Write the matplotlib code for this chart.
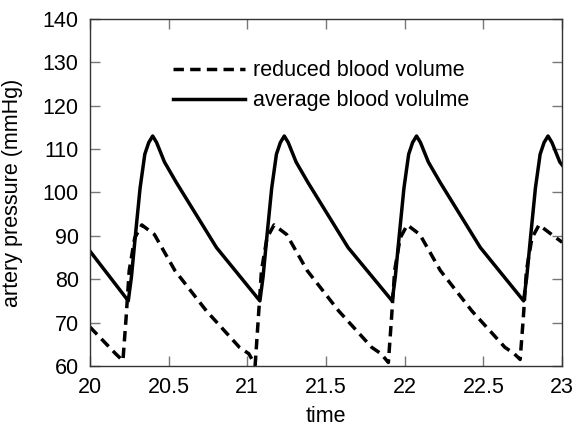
import matplotlib
matplotlib.use("Agg")
import matplotlib.pyplot as plt

plt.rcParams['font.family'] = ['Liberation Sans', 'DejaVu Sans']

# average blood volume: pressure trace (time, mmHg)
avg_time = [20.0, 20.244, 20.264, 20.289, 20.319, 20.349, 20.374, 20.399, 20.424, 20.474, 20.549, 20.804,
            21.080, 21.100, 21.125, 21.155, 21.185, 21.210, 21.235, 21.260, 21.310, 21.385, 21.640,
            21.920, 21.940, 21.965, 21.995, 22.025, 22.050, 22.075, 22.100, 22.150, 22.225, 22.480,
            22.755, 22.775, 22.800, 22.830, 22.860, 22.885, 22.910, 22.935, 22.985, 23.0]
avg_pressure = [86.5, 75.0, 80.5, 90.0, 101.0, 108.8, 111.5, 113.0, 111.5, 107.0, 102.3, 87.3,
                75.0, 80.5, 90.0, 101.0, 108.8, 111.5, 113.0, 111.5, 107.0, 102.3, 87.3,
                75.0, 80.5, 90.0, 101.0, 108.8, 111.5, 113.0, 111.5, 107.0, 102.3, 87.3,
                75.0, 80.5, 90.0, 101.0, 108.8, 111.5, 113.0, 111.5, 107.0, 106.3]

# reduced blood volume: pressure trace (time, mmHg)
red_time = [20.0, 20.164, 20.21, 20.23, 20.25, 20.285, 20.33, 20.41, 20.54, 20.74, 20.95, 21.01,
            21.05, 21.07, 21.09, 21.125, 21.17, 21.25, 21.38, 21.58, 21.79, 21.85,
            21.896, 21.916, 21.936, 21.971, 22.016, 22.096, 22.226, 22.426, 22.636, 22.696,
            22.733, 22.753, 22.773, 22.808, 22.853, 22.933, 23.0]
red_pressure = [69.0, 62.8, 61.2, 71.0, 82.0, 89.5, 92.5, 90.3, 82.0, 72.7, 64.3, 62.8,
                60.2, 71.0, 82.0, 89.5, 92.5, 90.3, 82.0, 72.7, 64.3, 62.8,
                60.8, 71.0, 82.0, 89.5, 92.5, 90.3, 82.0, 72.7, 64.3, 62.8,
                61.5, 71.0, 82.0, 89.5, 92.5, 90.3, 88.5]

x_ticks = [20, 20.5, 21, 21.5, 22, 22.5, 23]
x_tick_labels = ['20', '20.5', '21', '21.5', '22', '22.5', '23']
y_ticks = [60, 70, 80, 90, 100, 110, 120, 130, 140]

FS = 15.5

fig = plt.figure(figsize=(5.76, 4.29), dpi=100)
ax = fig.add_axes([0.156, 0.147, 0.82, 0.809])

ax.plot(red_time, red_pressure, color='black', lw=2.5, linestyle=(0, (3.0, 1.8)),
        label='reduced blood volume')
ax.plot(avg_time, avg_pressure, color='black', lw=2.5, solid_joinstyle='round',
        label='average blood volulme')

ax.set_xlim(20, 23)
ax.set_ylim(60, 140)
ax.set_xticks(x_ticks)
ax.set_xticklabels(x_tick_labels)
ax.set_yticks(y_ticks)
ax.tick_params(direction='in', length=7, width=1, color='#777777', top=True, right=True,
               labelsize=FS, labelcolor='black')
ax.tick_params(axis='x', pad=8)
ax.tick_params(axis='y', pad=8)
for s in ax.spines.values():
    s.set_linewidth(1.0)
    s.set_color('#333333')

ax.set_xlabel('time', fontsize=FS, labelpad=6)
ax.set_ylabel('artery pressure (mmHg)', fontsize=FS)
ax.yaxis.set_label_coords(-0.142, 0.5)

leg = ax.legend(loc='upper left', bbox_to_anchor=(0.158, 0.905), frameon=False, fontsize=FS,
                handlelength=3.35, handletextpad=0.37, labelspacing=0.42, borderaxespad=0)

fig.savefig('out.png', dpi=100)
